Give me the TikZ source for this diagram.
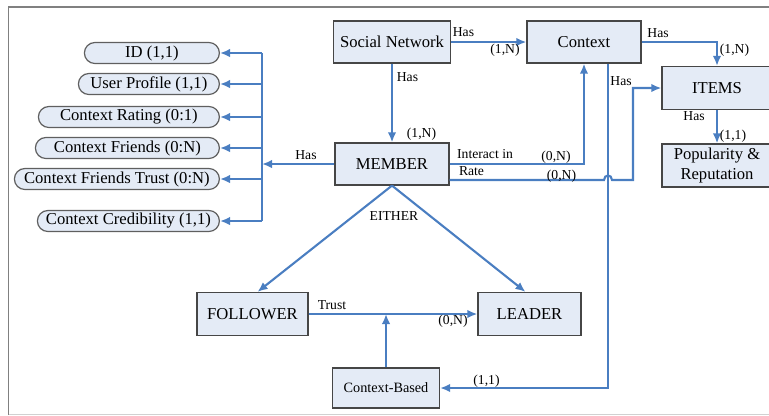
\documentclass[tikz,border=0pt]{standalone}
\usepackage{fontspec}
\setmainfont{Liberation Serif}
\usetikzlibrary{arrows.meta,shapes.misc}
\definecolor{linkblue}{RGB}{74,126,193}
\definecolor{boxfill}{RGB}{228,235,246}
\definecolor{boxline}{RGB}{70,70,70}
\definecolor{attrline}{RGB}{95,95,95}

\begin{document}
\begin{tikzpicture}[x=1bp,y=-1bp,
    entity/.style={draw=boxline,fill=boxfill,line width=1.2bp,inner sep=0bp,align=center,font=\fontsize{16.7}{21}\selectfont},
    attrib/.style={draw=attrline,fill=boxfill,rounded rectangle,line width=1.2bp,inner sep=0bp,minimum height=21bp,anchor=east,font=\fontsize{16.7}{20}\selectfont},
    link/.style={draw=linkblue,line width=2.1bp,-{Latex[length=10bp,width=8.5bp]}},
    wire/.style={draw=linkblue,line width=2.1bp},
    tag/.style={inner sep=0bp,font=\fontsize{13.7}{15}\selectfont}]
\useasboundingbox (0,0) rectangle (769,415);
\draw[black!50,line width=1.5bp] (8.5,415) -- (8.5,7) -- (769,7);
\draw[black!18,line width=1bp] (8.5,414) -- (769,414);

\node[entity,minimum width=117bp,minimum height=42bp] (sn) at (392,42) {Social Network};
\node[entity,minimum width=114bp,minimum height=42bp] (ctx) at (584,42) {Context};
\node[entity,minimum width=110bp,minimum height=43bp] (items) at (717,88) {ITEMS};
\node[entity,minimum width=110bp,minimum height=43bp] (pop) at (717,165.5) {Popularity \&\\Reputation};
\node[entity,minimum width=114bp,minimum height=42bp] (mem) at (392,164) {MEMBER};
\node[entity,minimum width=111bp,minimum height=43bp] (fol) at (252.5,314) {FOLLOWER};
\node[entity,minimum width=103bp,minimum height=43bp] (lead) at (529.5,314) {LEADER};
\node[entity,minimum width=107bp,minimum height=40bp,font=\fontsize{14.3}{16}\selectfont] (cb) at (386,388) {Context-Based};

\foreach \Name/\Text/\Y/\W in {a1/{ID (1,1)}/53/135, a2/{User Profile (1,1)}/84/141,
    a3/{Context Rating (0:1)}/117/181, a4/{Context Friends (0:N)}/148/184,
    a5/{Context Friends Trust (0:N)}/179/205, a6/{Context Credibility (1,1)}/221/182}
  \node[attrib,minimum width=\W bp] (\Name) at (220,\Y) {\Text};

\coordinate (bus) at (262,0);
\draw[wire] (bus |- a1.east) -- (bus |- a6.east);
\foreach \Name in {a1,a2,a3,a4,a5,a6}
  \draw[link] (bus |- \Name.east) -- (\Name.east);
\draw[link] (mem.west) -- (bus |- mem.west);

\draw[link] (sn.east) -- (ctx.west);
\draw[link] (sn.south) -- (sn.south |- mem.north);
\draw[link] (ctx.east) -| (items.north);
\draw[link] (items.south) -- (pop.north);
\draw[link] (mem.east) -| (ctx.south);
\draw[link] ([yshift=-16bp]mem.east) -- (604,180) .. controls (604,174) and (612,174) .. (612,180) -- (633,180) |- (items.west);
\draw[link] ([xshift=24bp]ctx.south) |- (cb.east);
\draw[link] (mem.south) -- ([xshift=5bp]fol.north);
\draw[link] (mem.south) -- ([xshift=-4bp]lead.north);
\draw[link] (fol.east) -- (lead.west);
\draw[link] (cb.north) -- (cb.north |- fol.east);

\node[tag] (t1) at (463.5,32) {Has};
\node[tag] (t2) at (505,50.5) {(1,N)};
\node[tag] (t3) at (407.5,77.5) {Has};
\node[tag] (t4) at (421.5,134) {(1,N)};
\node[tag] (t5) at (658,33.5) {Has};
\node[tag] (t6) at (734.5,50.5) {(1,N)};
\node[tag] (t7) at (621,81) {Has};
\node[tag] (t8) at (694,116.5) {Has};
\node[tag] (t9) at (733,136) {(1,1)};
\node[tag] (t10) at (485,154) {Interact in};
\node[tag] (t11) at (556,157) {(0,N)};
\node[tag] (t12) at (471.5,171.5) {Rate};
\node[tag] (t13) at (561.5,176) {(0,N)};
\node[tag] (t14) at (306,155) {Has};
\node[tag] (t15) at (394,216) {EITHER};
\node[tag] (t16) at (332,305.5) {Trust};
\node[tag] (t17) at (453,321) {(0,N)};
\node[tag] (t18) at (486.5,381) {(1,1)};
\end{tikzpicture}
\end{document}
